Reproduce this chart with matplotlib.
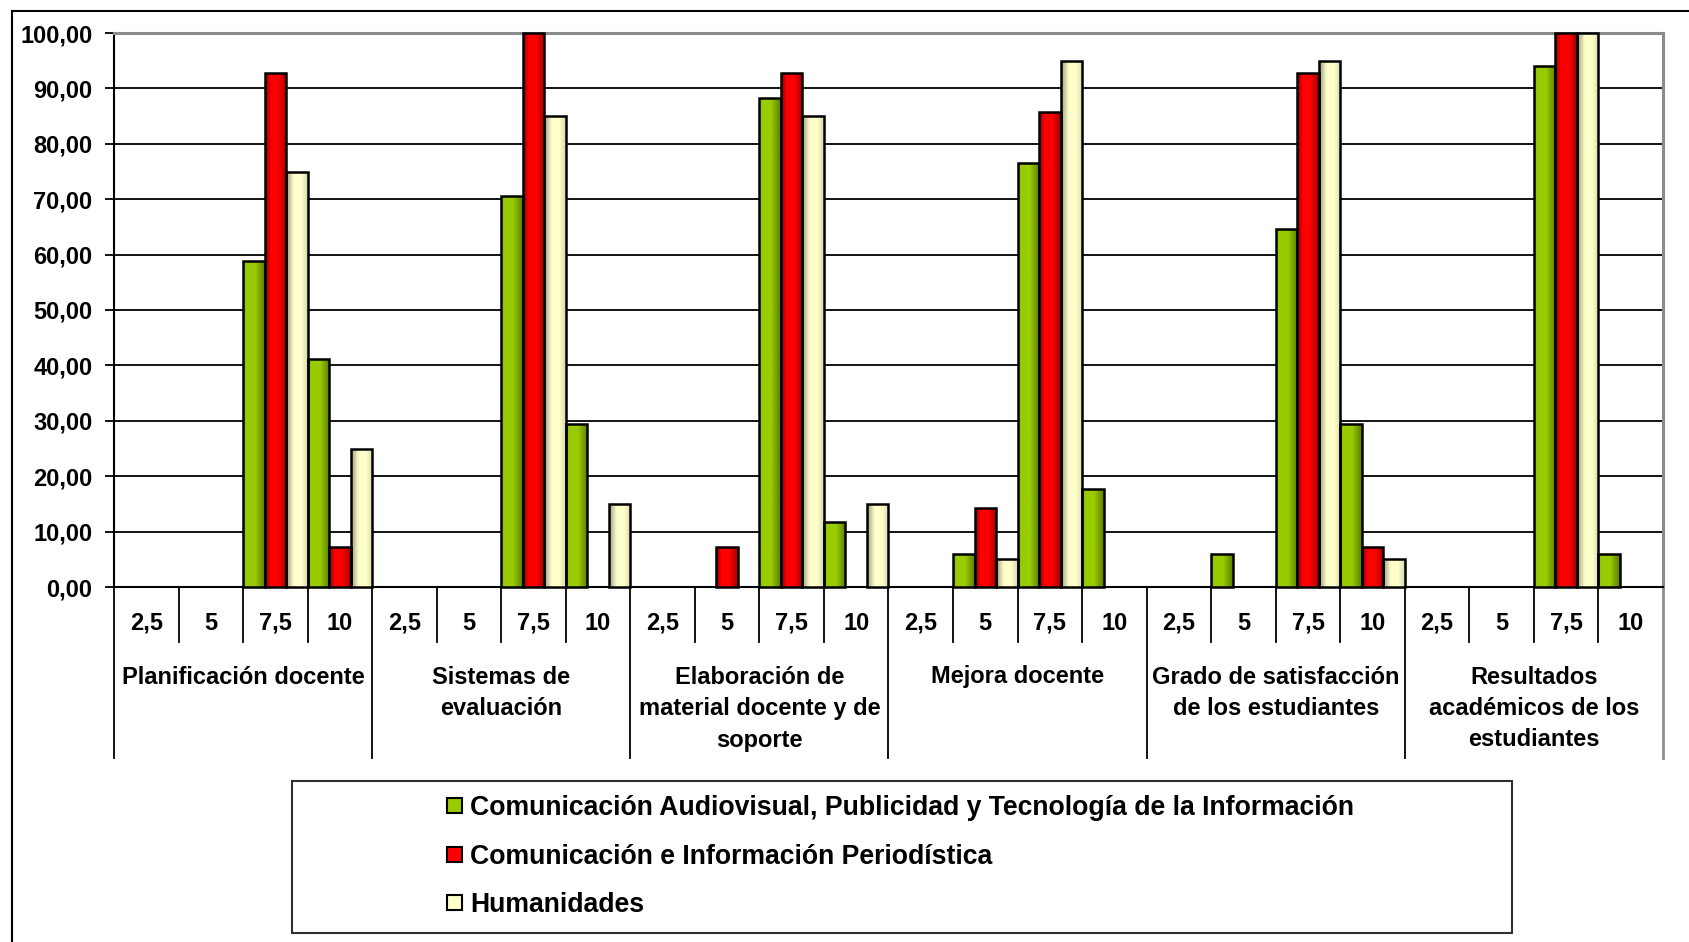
import numpy as np
import matplotlib
matplotlib.use("Agg")
import matplotlib.pyplot as plt
from matplotlib.colors import LinearSegmentedColormap
from matplotlib.lines import Line2D
from matplotlib.patches import Rectangle
from matplotlib.transforms import blended_transform_factory
from matplotlib.ticker import FuncFormatter

plt.rcParams['font.family'] = ['Liberation Sans', 'DejaVu Sans']
plt.rcParams['font.weight'] = 'bold'

# ---------------- data ----------------
groups = ["Planificación docente",
          "Sistemas de\nevaluación",
          "Elaboración de\nmaterial docente y de\nsoporte",
          "Mejora docente",
          "Grado de satisfacción\nde los estudiantes",
          "Resultados\nacadémicos de los\nestudiantes"]
scores = ["2,5", "5", "7,5", "10"]
series_names = ["Comunicación Audiovisual, Publicidad y Tecnología de la Información",
                "Comunicación e Información Periodística",
                "Humanidades"]

audiovisual = [0, 0, 58.82, 41.18,
               0, 0, 70.59, 29.41,
               0, 0, 88.24, 11.76,
               0, 5.88, 76.47, 17.65,
               0, 5.88, 64.71, 29.41,
               0, 0, 94.12, 5.88]
periodistica = [0, 0, 92.86, 7.14,
                0, 0, 100.0, 0,
                0, 7.14, 92.86, 0,
                0, 14.29, 85.71, 0,
                0, 0, 92.86, 7.14,
                0, 0, 100.0, 0]
humanidades = [0, 0, 75.0, 25.0,
               0, 0, 85.0, 15.0,
               0, 0, 85.0, 15.0,
               0, 5.0, 95.0, 0,
               0, 0, 95.0, 5.0,
               0, 0, 100.0, 0]
series = [audiovisual, periodistica, humanidades]
yticks = [0, 10, 20, 30, 40, 50, 60, 70, 80, 90, 100]

# ---------------- styling ----------------
W, H = 1690, 942
base_colors = ["#99CC00", "#FF0000", "#FFFFCC"]
grad_colors = [
    [(0.0, "#86B300"), (0.15, "#99CC00"), (0.55, "#99CC00"), (1.0, "#5C7D00")],
    [(0.0, "#8A0000"), (0.25, "#FF0000"), (0.6, "#FF0000"), (1.0, "#A00000")],
    [(0.0, "#9C9C7C"), (0.35, "#FFFFCC"), (0.7, "#FFFFCC"), (1.0, "#D8D8AE")],
]
FS = 17
FS_LEG = 19.2

fig = plt.figure(figsize=(W / 100, H / 100), dpi=100)
ax_l, ax_r, ax_t, ax_b = 114, 1663, 33, 587
ax = fig.add_axes([ax_l / W, 1 - ax_b / H, (ax_r - ax_l) / W, (ax_b - ax_t) / H])

n_slots = len(groups) * len(scores)
slot_x = np.arange(n_slots)
bw = 1.0 / len(series)
for j, vals in enumerate(series):
    cmap = LinearSegmentedColormap.from_list(f"g{j}", grad_colors[j])
    bars = ax.bar(slot_x + j * bw, vals, width=bw, align='edge',
                  color=base_colors[j], edgecolor='black', linewidth=1.8,
                  zorder=3, clip_on=False)
    grad = np.linspace(0, 1, 64).reshape(1, -1)
    for b, v in zip(bars, vals):
        if v <= 0:
            b.set_visible(False)
            continue
        im = ax.imshow(grad, cmap=cmap, aspect='auto', zorder=2.9,
                       interpolation='bilinear',
                       extent=(b.get_x(), b.get_x() + b.get_width(), 0, v))
        im.set_clip_path(b)
        b.set_facecolor('none')

ax.set_xlim(0, n_slots)
ax.set_ylim(0, 100)
ax.set_yticks(yticks)
ax.yaxis.set_major_formatter(FuncFormatter(lambda v, p: f"{v:.2f}".replace('.', ',')))
ax.set_xticks([])
ax.tick_params(axis='y', length=6.5, width=1.3, pad=9, labelsize=FS)
for lab in ax.get_yticklabels():
    lab.set_fontweight('bold')
ax.grid(axis='y', color='black', linewidth=1.3, zorder=1)
ax.set_axisbelow(True)
ax.spines['top'].set_color('#8C8C8C')
ax.spines['top'].set_linewidth(2.2)
ax.spines['right'].set_color('#8C8C8C')
ax.spines['right'].set_linewidth(2.2)
ax.spines['left'].set_linewidth(1.5)
ax.spines['bottom'].set_linewidth(1.5)
ax.spines['top'].set_zorder(2.5)

# ---------------- category axis ----------------
trans = blended_transform_factory(ax.transData, fig.transFigure)
fy = lambda py: 1 - py / H
for k in range(n_slots + 1):
    if k % len(scores) == 0:
        y1 = 758
        col = '#8C8C8C' if k == n_slots else 'black'
        lw = 2.0 if k == n_slots else 1.3
    else:
        y1 = 642
        col, lw = 'black', 1.3
    ax.add_artist(Line2D([k, k], [fy(ax_b), fy(y1)], transform=trans,
                         color=col, linewidth=lw, clip_on=False))
for k in range(n_slots):
    ax.text(k + 0.5, fy(623), scores[k % len(scores)], transform=trans,
            ha='center', va='center', fontsize=FS, fontweight='bold')
for g, name in enumerate(groups):
    xc = g * len(scores) + len(scores) / 2
    for i, line in enumerate(name.split("\n")):
        ax.text(xc, fy(677 + i * 31.5), line, transform=trans,
                ha='center', va='center', fontsize=FS, fontweight='bold')

# ---------------- outer frame ----------------
fig.add_artist(Line2D([12 / W, 1.0], [fy(11), fy(11)], transform=fig.transFigure,
                      color='black', linewidth=1.5))
fig.add_artist(Line2D([12 / W, 12 / W], [fy(11), 0.0], transform=fig.transFigure,
                      color='black', linewidth=1.5))

# ---------------- legend ----------------
fig.add_artist(Rectangle((292 / W, fy(933)), (1512 - 292) / W, (933 - 781) / H,
                         transform=fig.transFigure, facecolor='white',
                         edgecolor='#303030', linewidth=1.5))
rows_y = [805, 854, 902]
for j, name in enumerate(series_names):
    cy = rows_y[j]
    fig.add_artist(Rectangle((447 / W, fy(cy + 7.5)), 15 / W, 15 / H,
                             transform=fig.transFigure, facecolor=base_colors[j],
                             edgecolor='black', linewidth=1.5))
    fig.text(470 / W, fy(cy), name, ha='left', va='center_baseline',
             fontsize=FS_LEG, fontweight='bold')

fig.savefig("out.png", dpi=100, facecolor='white')
